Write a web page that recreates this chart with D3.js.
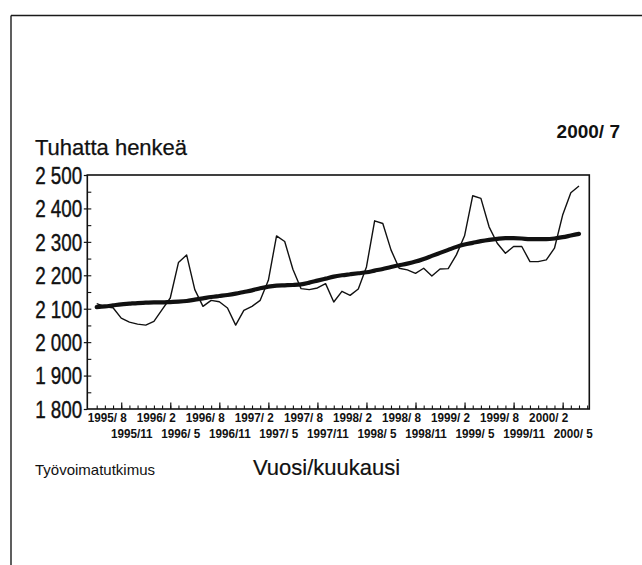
<!DOCTYPE html>
<html>
<head>
<meta charset="utf-8">
<script src="https://cdn.jsdelivr.net/npm/d3@7"></script>
<style>
  body { margin: 0; background: #fff; }
  svg { display: block; }
  text { font-family: "Liberation Sans", Arial, sans-serif; }
</style>
</head>
<body>
<div id="canvas"></div>
<script>
// kuukausittaiset havainnot 1995/8 - 2000/7 (tuhatta henkeä)
const raw = [
  2115, 2106, 2103, 2072, 2060, 2054, 2051, 2062, 2097, 2132, 2238, 2261,
  2157, 2107, 2125, 2121, 2102, 2051, 2095, 2107, 2125, 2185, 2318, 2301,
  2218, 2160, 2157, 2162, 2175, 2120, 2152, 2140, 2159, 2225, 2363, 2355,
  2276, 2221, 2216, 2206, 2221, 2198, 2219, 2220, 2261, 2318, 2438, 2430,
  2345, 2296, 2266, 2286, 2286, 2241, 2241, 2246, 2281, 2380, 2447, 2467
];
const trend = [
  2105, 2107, 2110, 2113, 2115, 2117, 2118, 2119, 2119, 2120, 2121, 2123,
  2127, 2131, 2135, 2138, 2141, 2145, 2150, 2155, 2161, 2166, 2169, 2170,
  2171, 2173, 2178, 2184, 2190, 2196, 2200, 2203, 2206, 2209, 2214, 2219,
  2225, 2230, 2235, 2241, 2249, 2258, 2267, 2276, 2285, 2292, 2297, 2302,
  2306, 2309, 2311, 2311, 2310, 2308, 2308, 2308, 2310, 2314, 2319, 2324
];
const labelsTop = ["1995/ 8", "1996/ 2", "1996/ 8", "1997/ 2", "1997/ 8",
  "1998/ 2", "1998/ 8", "1999/ 2", "1999/ 8", "2000/ 2"];
const labelsBottom = ["1995/11", "1996/ 5", "1996/11", "1997/ 5", "1997/11",
  "1998/ 5", "1998/11", "1999/ 5", "1999/11", "2000/ 5"];
const yTicks = [1800, 1900, 2000, 2100, 2200, 2300, 2400, 2500];
const yLabels = ["1 800", "1 900", "2 000", "2 100", "2 200", "2 300", "2 400", "2 500"];

const width = 642;
const height = 565;
const frame = { left: 87.3, right: 589.3, top: 175, bottom: 409 };
const squeeze = 0.82; // kapea kirjasin puristamalla
const squeezeX = 0.9;

const svg = d3.select("#canvas").append("svg")
  .attr("width", width)
  .attr("height", height);

// sivun reunaviivat
svg.append("line").attr("x1", 11).attr("y1", 15.5).attr("x2", width).attr("y2", 15.5)
  .attr("stroke", "#1a1a1a").attr("stroke-width", 1.6);
svg.append("line").attr("x1", 11).attr("y1", 15.5).attr("x2", 11).attr("y2", height)
  .attr("stroke", "#1a1a1a").attr("stroke-width", 1.4);

const x = d3.scaleLinear().domain([0, raw.length - 1]).range([96.7, 579]);
const y = d3.scaleLinear().domain([1800, 2500]).range([frame.bottom, frame.top]);

// y-akseli
const yAxis = svg.append("g")
  .attr("transform", `translate(${frame.left},0)`)
  .call(d3.axisLeft(y).tickValues(yTicks).tickFormat((d, i) => yLabels[i])
    .tickSize(3.5).tickPadding(1.5));
yAxis.select(".domain").remove();
yAxis.selectAll("line").attr("stroke", "#111").attr("stroke-width", 1.2);
yAxis.selectAll("text")
  .attr("font-size", 23).attr("fill", "#111").attr("dy", "0.36em")
  .attr("stroke", "#111").attr("stroke-width", 0.4)
  .attr("x", -5 / squeeze)
  .attr("transform", `scale(${squeeze},1)`);

svg.append("g")
  .attr("transform", `translate(${frame.left},0)`)
  .call(d3.axisRight(y).tickValues(d3.range(1850, 2500, 50)).tickFormat("").tickSize(4))
  .call((g) => g.select(".domain").remove())
  .selectAll("line").attr("stroke", "#111").attr("stroke-width", 1.1);

// x-akselin jakoviivat (sisäänpäin)
const months = d3.range(0, raw.length + 1);
svg.append("g")
  .attr("transform", `translate(0,${frame.bottom})`)
  .call(d3.axisBottom(x).tickValues(months).tickFormat("").tickSize(-3.5))
  .call((g) => g.select(".domain").remove())
  .selectAll("line").attr("stroke", "#111").attr("stroke-width", 1.1);
svg.append("g")
  .attr("transform", `translate(0,${frame.bottom})`)
  .call(d3.axisBottom(x).tickValues(months.filter((m) => m % 6 === 3)).tickFormat("").tickSize(-6.5))
  .call((g) => g.select(".domain").remove())
  .selectAll("line").attr("stroke", "#111").attr("stroke-width", 1.2);

// x-akselin nimiöt kahdessa rivissä
const topRow = svg.append("g")
  .attr("transform", `translate(0,${frame.bottom})`)
  .call(d3.axisBottom(x).tickValues(labelsTop.map((d, i) => i * 6))
    .tickFormat((d, i) => labelsTop[i]).tickSize(0));
const bottomRow = svg.append("g")
  .attr("transform", `translate(0,${frame.bottom})`)
  .call(d3.axisBottom(x).tickValues(labelsBottom.map((d, i) => i * 6 + 3))
    .tickFormat((d, i) => labelsBottom[i]).tickSize(0));
[topRow, bottomRow].forEach((g, r) => {
  g.select(".domain").remove();
  g.selectAll("text")
    .attr("font-size", 13).attr("font-weight", "bold").attr("fill", "#111")
    .attr("x", 10 / squeezeX).attr("y", r === 0 ? 13.5 : 28.6).attr("dy", 0)
    .attr("transform", `scale(${squeezeX},1)`)
    .style("white-space", "pre");
});

// kehys
svg.append("rect")
  .attr("x", frame.left).attr("y", frame.top)
  .attr("width", frame.right - frame.left).attr("height", frame.bottom - frame.top)
  .attr("fill", "none").attr("stroke", "#111").attr("stroke-width", 1.6);

const line = d3.line().x((d, i) => x(i)).y((d) => y(d));

svg.append("path").datum(raw)
  .attr("d", line)
  .attr("fill", "none").attr("stroke", "#111").attr("stroke-width", 1.4)
  .attr("stroke-linejoin", "round");

svg.append("path").datum(trend)
  .attr("d", d3.line().x((d, i) => x(i)).y((d) => y(d)).curve(d3.curveMonotoneX))
  .attr("fill", "none").attr("stroke", "#111").attr("stroke-width", 4.2)
  .attr("stroke-linecap", "round");

// tekstit
svg.append("text")
  .attr("x", 35).attr("y", 155).attr("font-size", 22).attr("fill", "#111")
  .attr("stroke", "#111").attr("stroke-width", 0.25)
  .text("Tuhatta henkeä");
svg.append("text")
  .attr("x", 620).attr("y", 138).attr("text-anchor", "end")
  .attr("font-size", 19).attr("font-weight", "bold").attr("fill", "#111")
  .text("2000/ 7");
svg.append("text")
  .attr("x", 35).attr("y", 475).attr("font-size", 15).attr("fill", "#111")
  .text("Työvoimatutkimus");
svg.append("text")
  .attr("x", 253).attr("y", 475).attr("font-size", 22).attr("fill", "#111")
  .attr("stroke", "#111").attr("stroke-width", 0.2)
  .text("Vuosi/kuukausi");
</script>
</body>
</html>
